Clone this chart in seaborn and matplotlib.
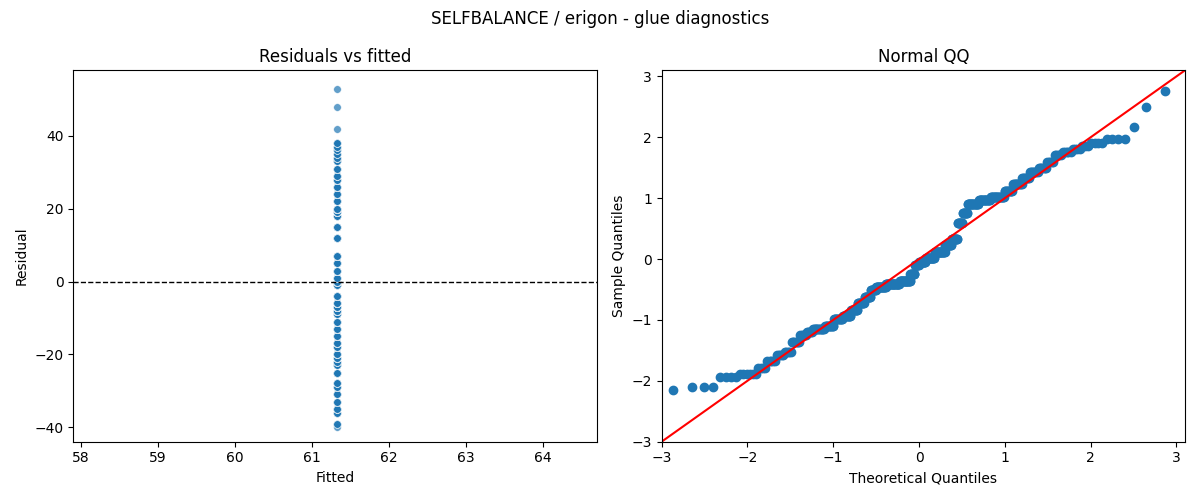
import numpy as np
import pandas as pd
import matplotlib
matplotlib.use("Agg")
import matplotlib.pyplot as plt
import seaborn as sns
from statistics import NormalDist

# residual values and how many points sit at each
resid_values = [-40, -39, -36, -35, -33, -31, -29, -28, -25, -23, -22, -21, -20, -18, -17,
                -15, -13, -11, -9, -8, -7, -6, -4, -1, 0, 1, 3, 5, 7, 12, 15, 18, 19, 20,
                22, 24, 26, 28, 29, 31, 33, 34, 35, 36, 37, 38, 42, 48, 53]
resid_counts = [1, 3, 4, 6, 4, 5, 5, 5, 7, 6, 6, 14, 12, 13, 13,
                12, 12, 12, 11, 20, 30, 24, 10, 10, 15, 20, 23, 14, 13, 10, 10, 21, 20, 21,
                11, 11, 8, 8, 7, 5, 5, 5, 4, 3, 4, 4, 1, 1, 1]
fitted_value = 61.32

resid = np.repeat(np.array(resid_values, dtype=float), resid_counts)
df = pd.DataFrame({"Fitted": fitted_value, "Residual": resid})

fig, (ax1, ax2) = plt.subplots(1, 2, figsize=(12, 5))

sns.scatterplot(data=df, x="Fitted", y="Residual", ax=ax1, alpha=0.7, s=30)
ax1.axhline(0, color="black", linestyle="--", linewidth=1)
ax1.set_xlim(57.9, 64.7)
ax1.set_ylim(-44, 58)
ax1.set_title("Residuals vs fitted")

# normal QQ of standardized residuals
n = len(resid)
sample_q = np.sort((resid - resid.mean()) / resid.std(ddof=1))
nd = NormalDist()
theo_q = np.array([nd.inv_cdf(i / (n + 1)) for i in range(1, n + 1)])
ax2.plot(theo_q, sample_q, "o", color="#1f77b4", markersize=6)
ax2.set_xlim(-3.0, 3.1)
ax2.set_ylim(-3.0, 3.1)
ax2.plot([-3.0, 3.1], [-3.0, 3.1], color="red")
ax2.set_xlabel("Theoretical Quantiles")
ax2.set_ylabel("Sample Quantiles")
ax2.set_title("Normal QQ")

fig.suptitle("SELFBALANCE / erigon - glue diagnostics")
fig.tight_layout()
fig.savefig("out.png", dpi=100)
